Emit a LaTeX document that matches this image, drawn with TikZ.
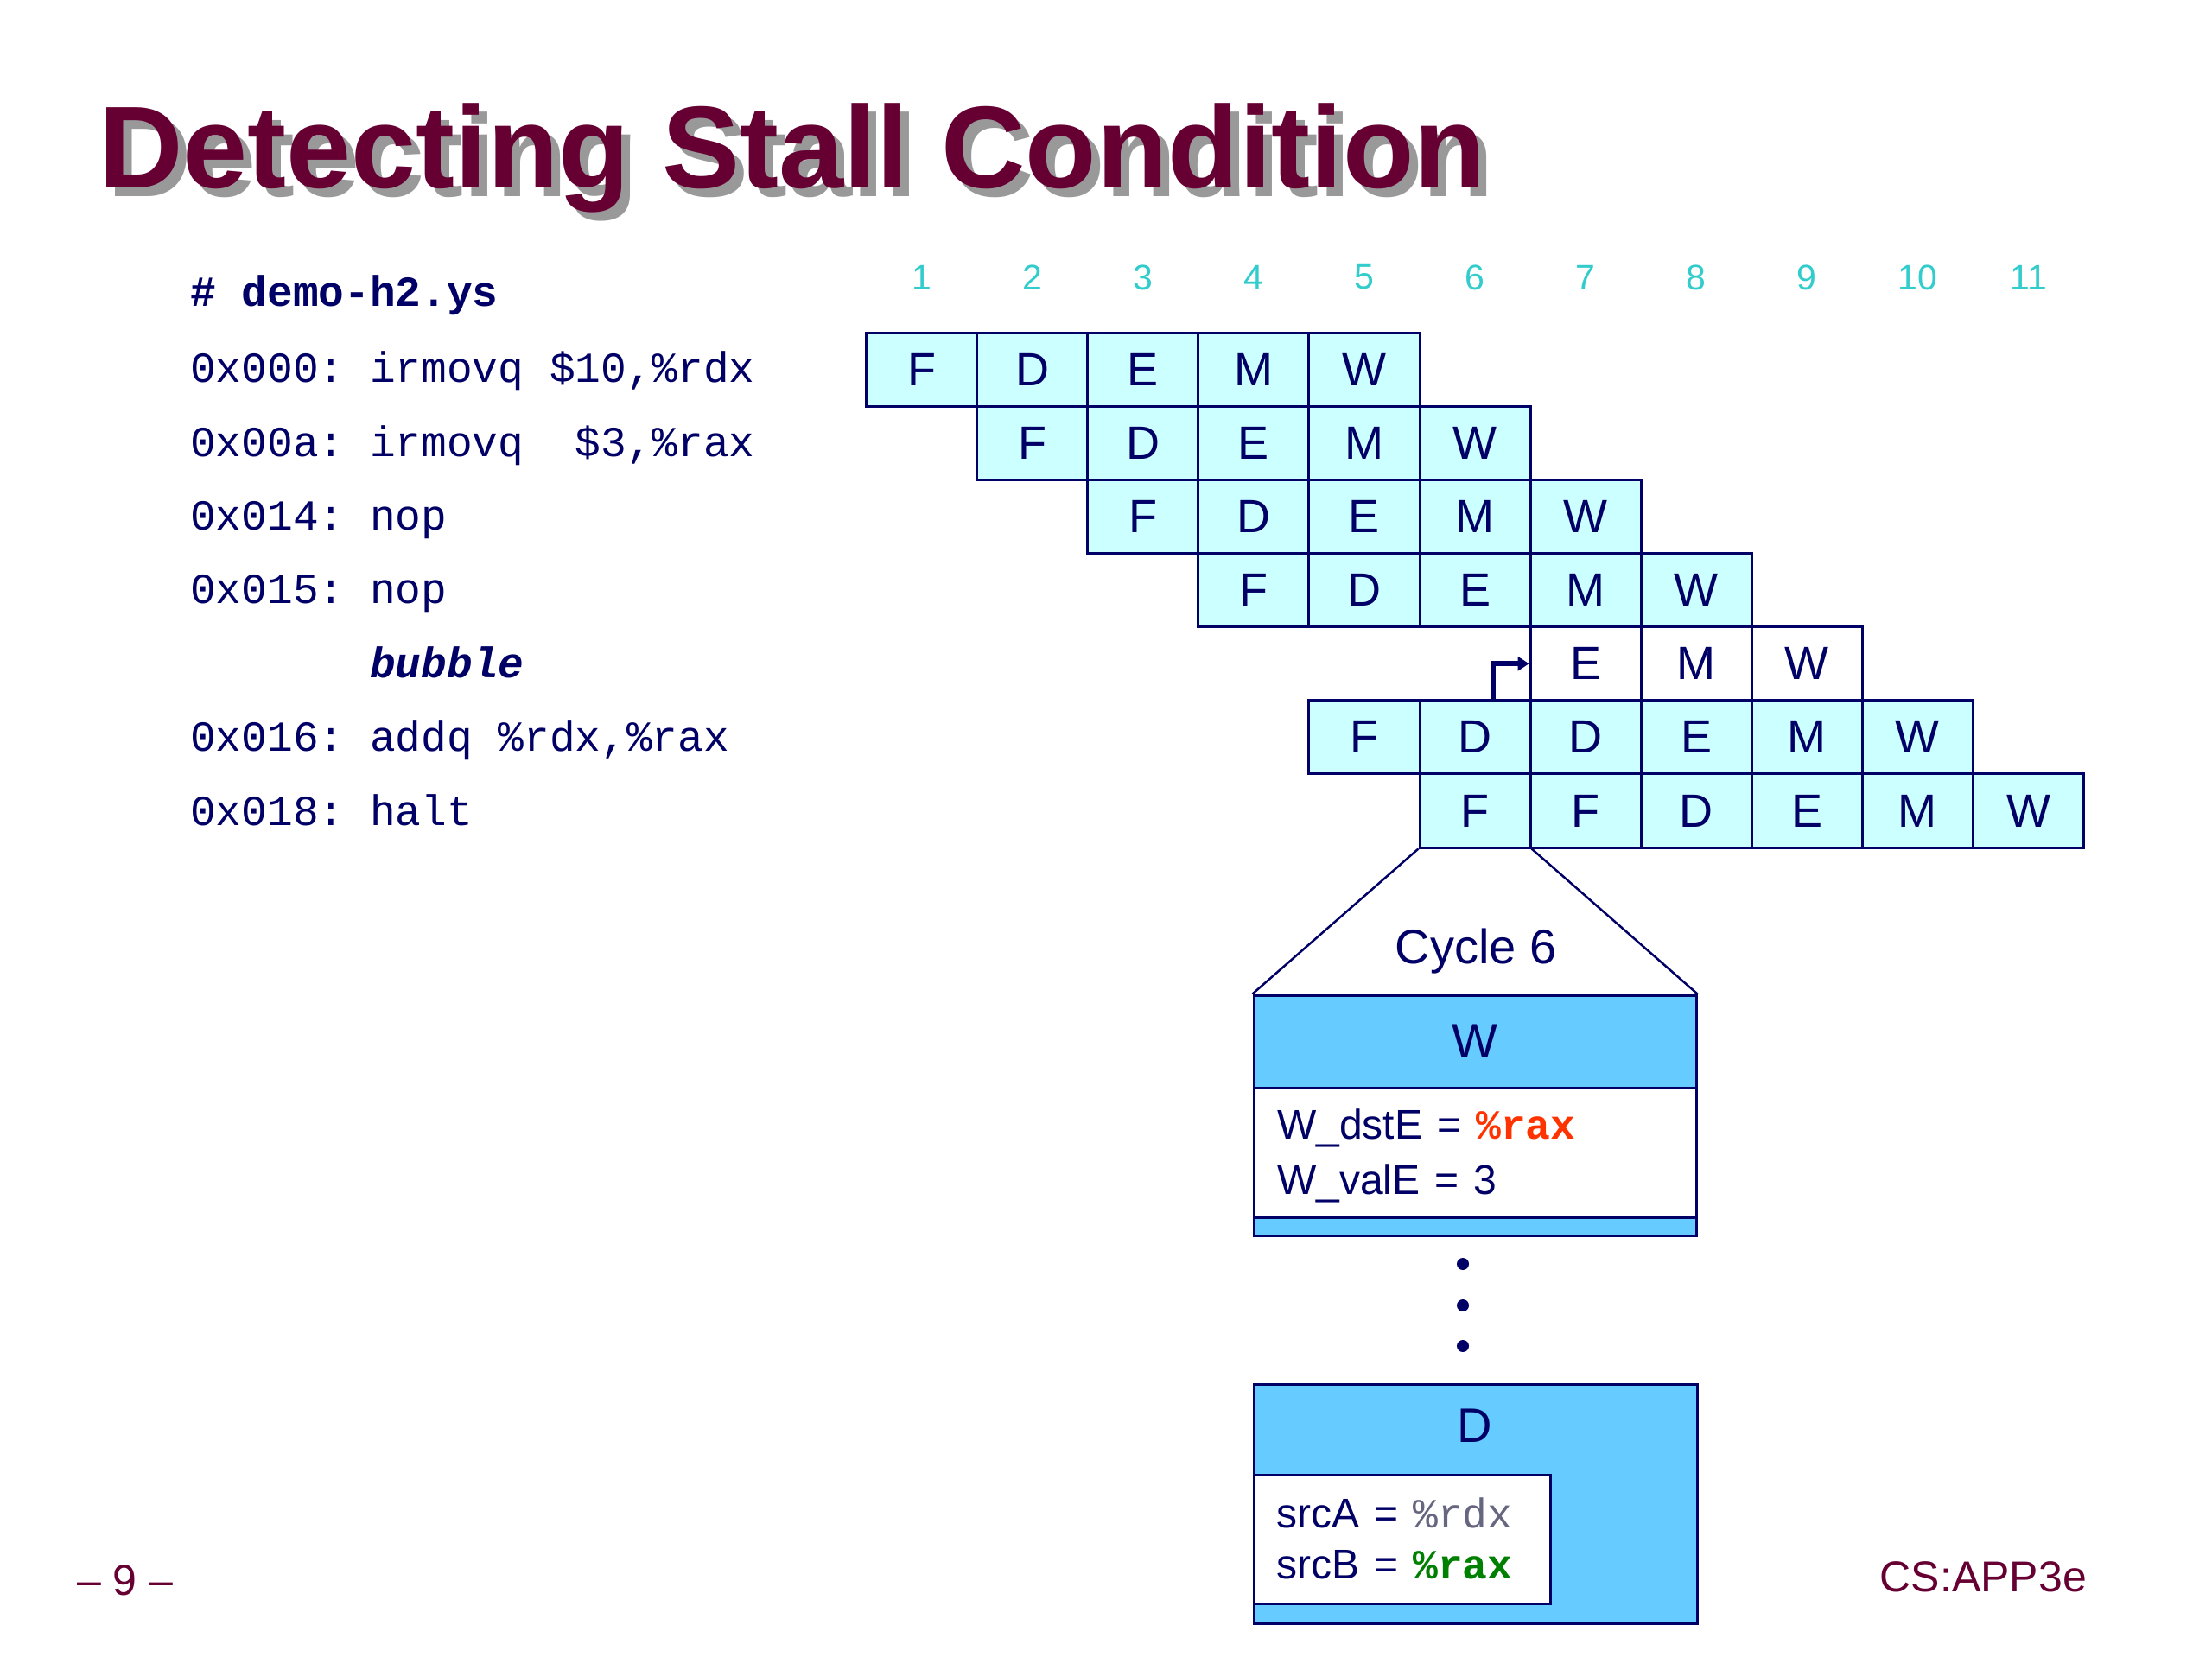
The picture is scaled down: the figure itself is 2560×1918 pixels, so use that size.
\documentclass[tikz,border=0pt]{standalone}
\usepackage{fontspec}
\setmainfont{Liberation Sans}
\setmonofont{Liberation Mono}
\usetikzlibrary{arrows.meta,calc}
\definecolor{navy}{RGB}{0,0,102}
\definecolor{maroon}{RGB}{102,0,51}
\definecolor{shadowgray}{RGB}{153,153,153}
\definecolor{cellfill}{RGB}{204,255,255}
\definecolor{boxblue}{RGB}{102,204,255}
\definecolor{cycnum}{RGB}{51,204,204}
\definecolor{regred}{RGB}{255,51,0}
\definecolor{reggreen}{RGB}{0,128,0}
\definecolor{reggray}{RGB}{102,102,128}
\newcommand{\setfs}[1]{\fontsize{#1}{#1}\selectfont}
\newcommand{\eqs}{\hspace{17pt}}
\begin{document}
\begin{tikzpicture}[x=1pt,y=-1pt,
  cell/.style={draw=navy, line width=3pt, fill=cellfill, minimum width=128.1pt, minimum height=85.1pt, inner sep=0pt, text=navy, font=\setfs{54}},
  bubcell/.style={cell, fill=white},
  cycnumber/.style={text=cycnum, inner sep=0pt, font=\setfs{41}},
  codeline/.style={anchor=base west, inner sep=0pt, text=navy, font=\ttfamily\setfs{49.5}},
  plaintext/.style={anchor=base west, inner sep=0pt, text=navy, font=\setfs{48}},
  stagebox/.style={draw=navy, line width=3pt, inner sep=0pt},
  zoomline/.style={draw=navy, line width=2.5pt},
  ellipsisdot/.style={circle, fill=navy, inner sep=0pt, minimum size=14pt},
  bubarrow/.style={draw=navy, line width=6pt, -{Triangle[length=13pt,width=16pt]}},
]
\useasboundingbox (0,0) rectangle (2560,1918);

% title
\node[anchor=base west, inner sep=0pt, text=shadowgray, font=\bfseries\setfs{135}] (titleshadow) at (124,228) {Detecting Stall Condition};
\node[anchor=base west, inner sep=0pt, text=maroon, font=\bfseries\setfs{135}] (title) at (114,218) {Detecting Stall Condition};

% code
\node[codeline, font=\ttfamily\bfseries\setfs{49.5}] (fname) at (220,355) {\# demo-h2.ys};
\node[codeline] (l1) at (220,442) {0x000: irmovq \$10,\%rdx};
\node[codeline] (l2) at (220,528) {0x00a: irmovq~~\$3,\%rax};
\node[codeline] (l3) at (220,613) {0x014: nop};
\node[codeline] (l4) at (220,698) {0x015: nop};
\node[codeline, font=\ttfamily\bfseries\itshape\setfs{49.5}] (bub) at (428,784) {bubble};
\node[codeline] (l5) at (220,869) {0x016: addq \%rdx,\%rax};
\node[codeline] (l6) at (220,955) {0x018: halt};

% cycle numbers
\foreach \n in {1,...,11} {
  \node[cycnumber] (num\n) at ({1002.5+(\n-0.5)*128.1},321) {\n};
}

% pipeline cells
\foreach \rr/\st/\seq/\sty in {1/1/{F,D,E,M,W}/cell, 2/2/{F,D,E,M,W}/cell, 3/3/{F,D,E,M,W}/cell, 4/4/{F,D,E,M,W}/cell, 5/7/{E,M,W}/bubcell, 6/5/{F,D,D,E,M,W}/cell, 7/6/{F,F,D,E,M,W}/cell} {
  \foreach \lt [count=\k from 0] in \seq {
    \pgfmathtruncatemacro{\cc}{\st+\k}
    \node[\sty] (c\rr-\cc) at ({1002.5+(\cc-0.5)*128.1},{385.3+(\rr-0.5)*85.1}) {\lt};
  }
}

% bubble arrow
\draw[bubarrow] ($(c6-6.north)+(21,0)$) |- (c5-7.west);

% W box
\node[stagebox, fill=boxblue, minimum width=512pt, minimum height=107pt, text=navy, font=\setfs{56}] (whead) at (1707,1205.5) {W};
\node[stagebox, fill=white, minimum width=512pt, minimum height=150pt] (wbody) at (1707,1334) {};
\node[stagebox, fill=boxblue, minimum width=512pt, minimum height=21pt] (wfoot) at (1707,1419.5) {};
\node[plaintext] (wdst) at (1478,1318) {W\_dstE\eqs=\eqs{\ttfamily\bfseries\color{regred}\%rax}};
\node[plaintext] (wval) at (1478,1382) {W\_valE\eqs=\eqs3};

% zoom lines and label
\draw[zoomline] (c7-6.south west) -- (whead.north west);
\draw[zoomline] (c7-6.south east) -- (whead.north east);
\node[anchor=base, inner sep=0pt, text=navy, font=\setfs{56}] (cyclelabel) at (1708,1115) {Cycle 6};

% dots
\node[ellipsisdot] (dot1) at (1693,1463) {};
\node[ellipsisdot] (dot2) at (1693,1511) {};
\node[ellipsisdot] (dot3) at (1693,1558) {};

% D box
\node[stagebox, fill=boxblue, minimum width=513pt, minimum height=277pt] (dbox) at (1707.5,1740.5) {};
\node[anchor=base, inner sep=0pt, text=navy, font=\setfs{56}] (dlabel) at (1707,1669) {D};
\node[stagebox, fill=white, minimum width=343pt, minimum height=149pt] (dinner) at (1622.5,1781.5) {};
\node[plaintext] (srca) at (1477,1768) {srcA\eqs=\eqs{\ttfamily\color{reggray}\%rdx}};
\node[plaintext] (srcb) at (1477,1827) {srcB\eqs=\eqs{\ttfamily\bfseries\color{reggreen}\%rax}};

% footer
\node[anchor=base west, inner sep=0pt, text=maroon, font=\setfs{50}] (pagenum) at (89,1846) {– 9 –};
\node[anchor=base east, inner sep=0pt, text=maroon, font=\setfs{50}] (brand) at (2415,1842) {CS:APP3e};
\end{tikzpicture}
\end{document}
